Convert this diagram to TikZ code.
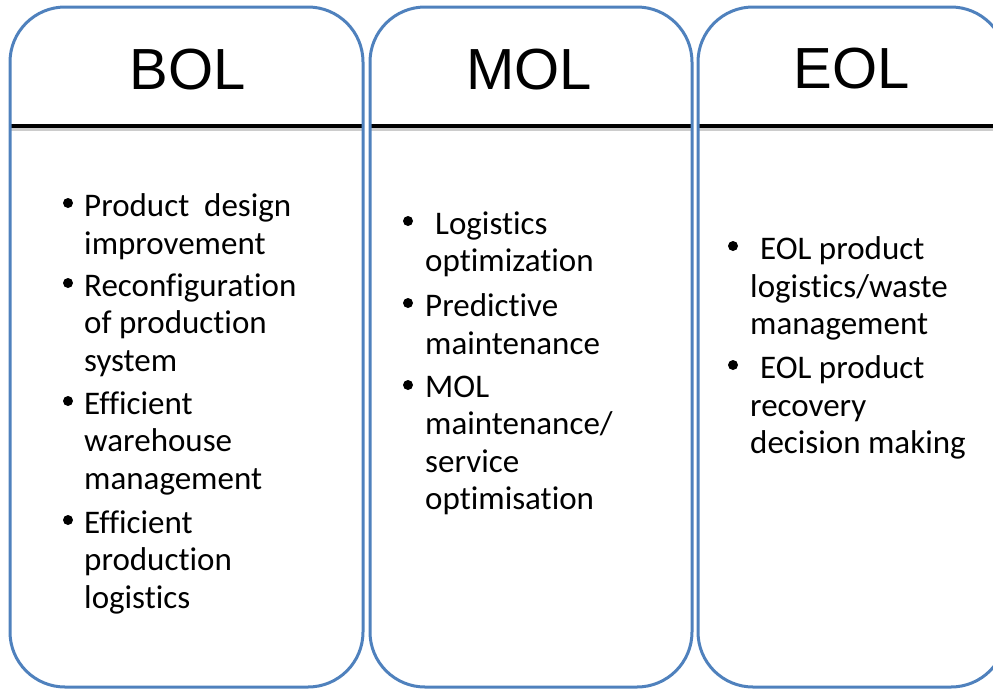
\documentclass[tikz,border=0pt]{standalone}
\usepackage{fontspec}
\setmainfont{Carlito}[Ligatures={NoCommon,NoContextual}]
\newfontfamily\headfont{Liberation Sans}
\definecolor{boxblue}{RGB}{79,129,189}
\tikzset{
  phasebox/.style={draw=boxblue, line width=3pt, rounded corners=55pt},
  headrule/.style={line width=3.5pt, black},
  headshadow/.style={line width=3pt, black!20},
  phasetitle/.style={font=\headfont\fontsize{58}{60}\selectfont, anchor=base, inner sep=0pt},
  itemtext/.style={font=\fontsize{33}{37.5}\selectfont, align=left, anchor=north west,
    inner sep=0pt, yshift=21.5pt, execute at begin node=\strut},
}

\begin{document}
\begin{tikzpicture}[x=1pt,y=-1pt]
    \useasboundingbox (0,0) rectangle (993,689);
    \clip (0,0) rectangle (993,689);
    % corner points of the three phases
    \coordinate (bolnw) at (10,7);    \coordinate (bolse) at (363,687);
    \coordinate (molnw) at (370,7);   \coordinate (molse) at (692,687);
    \coordinate (eolnw) at (698,7);   \coordinate (eolse) at (1006,687);
    % rules under the titles, with a soft shadow
    \foreach \p in {bol,mol,eol} {
        \draw[headshadow] (\p nw |- 0,129.5) -- (\p se |- 0,129.5);
        \draw[headrule] (\p nw |- 0,126) -- (\p se |- 0,126);
        \draw[phasebox] (\p nw) rectangle (\p se);
    }
    % titles
    \node[phasetitle] (boltitle) at (188,89) {BOL};
    \node[phasetitle] (moltitle) at (529,89) {MOL};
    \node[phasetitle] (eoltitle) at (852,88) {EOL};
    % BOL items
    \node[itemtext] (bolone) at (84,215) {Product\ \ design\\improvement};
    \node[itemtext] (boltwo) at (84,295) {Reconfiguration\\of production\\system};
    \node[itemtext] (bolthree) at (84,413) {Efficient\\warehouse\\management};
    \node[itemtext] (bolfour) at (84,532) {Efficient\\production\\logistics};
    % MOL items
    \node[itemtext] (molone) at (425,233) {\hspace*{10pt}Logistics\\optimization};
    \node[itemtext] (moltwo) at (425,315) {Predictive\\maintenance};
    \node[itemtext] (molthree) at (425,397) {MOL\\maintenance/\\service\\optimisation};
    % EOL items
    \node[itemtext] (eolone) at (750,258) {\hspace*{10pt}EOL product\\logistics/waste\\management};
    \node[itemtext] (eoltwo) at (750,377) {\hspace*{10pt}EOL product\\recovery\\decision making};
    % bullets
    \foreach \x/\y in {68/215, 68/295, 68/413, 68/532, 408/233, 408/315, 408/397, 733/258, 733/377}
        \fill (\x,\y-12) circle (5pt);
\end{tikzpicture}
\end{document}
